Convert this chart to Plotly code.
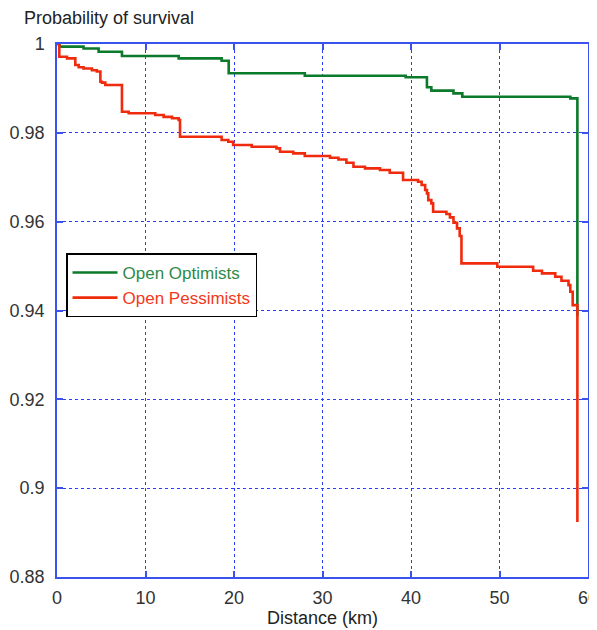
import plotly.graph_objects as go

# Distance (km) at each event and survival probability after it
opt_x = [0, 0.3, 3.0, 4.7, 7.34, 13.75, 18.6, 19.4, 28.0, 39.4, 41.8, 42.3, 44.8, 45.8, 58.0, 58.8, 58.8]
opt_y = [1.0, 0.9994, 0.9990, 0.99827, 0.9973, 0.99677, 0.99624, 0.9934, 0.99286, 0.9925, 0.99025, 0.9895, 0.98889, 0.98813, 0.98776, 0.98776, 0.9387]

pes_x = [0, 0.26, 1.13, 2.07, 2.45, 3.0, 3.95, 4.5, 4.9, 5.08, 5.46, 7.34, 8.1, 11.1, 12.05, 13.0, 13.75,
         13.9, 18.6, 19.36, 19.9, 22.0, 24.8, 25.2, 26.7, 28.0, 30.85, 31.8, 32.7, 33.5, 34.8,
         36.5, 37.6, 39.1, 40.8, 41.2, 41.6, 41.8, 41.95, 42.3, 42.5, 44.0, 44.4, 44.8, 45.2, 45.5, 45.7,
         49.75, 53.8, 54.8, 56.3, 57.0, 57.8, 58.0, 58.27, 58.8, 58.8]
pes_y = [1.0, 0.99714, 0.99677, 0.99527, 0.99475, 0.9945, 0.9941, 0.9938, 0.99151, 0.9913, 0.99077, 0.98476, 0.9844, 0.984, 0.9836, 0.9833, 0.98288,
         0.97912, 0.97838, 0.978, 0.97725, 0.97688, 0.9765, 0.97574, 0.97537, 0.97477, 0.9744, 0.974, 0.97327, 0.97237, 0.972,
         0.97162, 0.97101, 0.96937, 0.969, 0.96824, 0.96712, 0.96637, 0.96486, 0.96412, 0.96223, 0.96171, 0.96097, 0.95975, 0.9585, 0.95676, 0.9506,
         0.94985, 0.94894, 0.94835, 0.9476, 0.94669, 0.94572, 0.94421, 0.94122, 0.9386, 0.8924]

x_ticks = [0, 10, 20, 30, 40, 50, 60]
y_ticks = [0.88, 0.9, 0.92, 0.94, 0.96, 0.98, 1.0]
y_tick_labels = ["0.88", "0.9", "0.92", "0.94", "0.96", "0.98", "1"]

GREEN = "#0b7a2b"
RED = "#f02a0c"
BLUE = "#3a52ee"
FONT = "Liberation Sans, Arial, sans-serif"

fig = go.Figure()
fig.add_trace(go.Scatter(
    x=opt_x, y=opt_y, mode="lines", line=dict(color=GREEN, width=2.6, shape="hv"),
    name="<span style='color:#2e8a4a'>Open Optimists</span>"))
fig.add_trace(go.Scatter(
    x=pes_x, y=pes_y, mode="lines", line=dict(color=RED, width=2.6, shape="hv"),
    name="<span style='color:#f03a20'>Open Pessimists</span>"))

axis_common = dict(
    showline=True, linecolor=BLUE, linewidth=1.5, mirror="allticks",
    ticks="inside", ticklen=6, tickcolor=BLUE, tickwidth=1.5,
    showgrid=True, gridcolor="#2a3cff", griddash="dot", gridwidth=1,
    zeroline=False, automargin=False, ticklabeloverflow="allow",
    tickfont=dict(family=FONT, size=18, color="#333333"),
)

fig.update_xaxes(range=[0, 60], tickvals=x_ticks, ticktext=[str(v) for v in x_ticks],
                 ticklabelstandoff=4, **axis_common)
fig.update_yaxes(range=[0.88, 1.0], tickvals=y_ticks, ticktext=y_tick_labels,
                 ticklabelstandoff=7, **axis_common)

fig.update_layout(
    width=589, height=622,
    margin=dict(l=49, r=9, t=36, b=53),
    plot_bgcolor="white", paper_bgcolor="white",
    font=dict(family=FONT, size=18, color="#222222"),
    showlegend=True,
    legend=dict(
        x=0.017, y=0.607, xanchor="left", yanchor="top",
        bgcolor="white", bordercolor="black", borderwidth=1.5,
        font=dict(family=FONT, size=17), tracegroupgap=0, itemwidth=45,
    ),
    annotations=[
        dict(text="Probability of survival", xref="paper", yref="paper", x=-0.066, y=1.0,
             yshift=26, xanchor="left", yanchor="middle", showarrow=False,
             font=dict(family=FONT, size=18, color="#222222")),
        dict(text="Distance (km)", xref="paper", yref="paper", x=0.5, y=0,
             yshift=-41, xanchor="center", yanchor="middle", showarrow=False,
             font=dict(family=FONT, size=18, color="#222222")),
    ],
)

fig.write_html("out.html")
